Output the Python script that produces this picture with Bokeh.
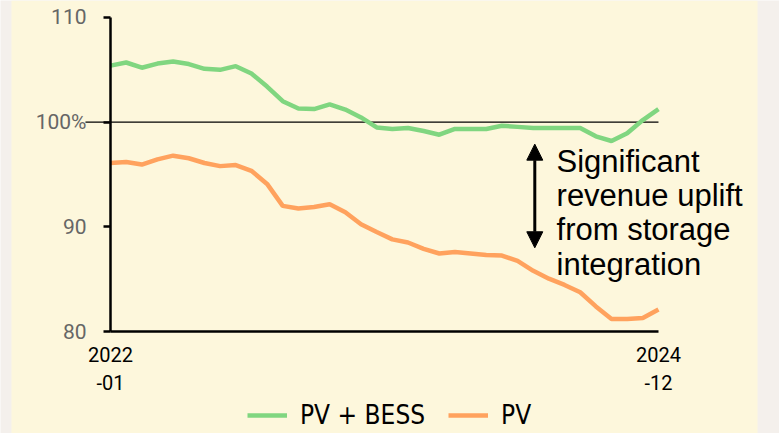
from bokeh.plotting import figure
from bokeh.models import (FixedTicker, Legend, LegendItem, Label, Arrow, NormalHead, BoxAnnotation)
from bokeh.embed import file_html
from bokeh.resources import INLINE

months = list(range(36))
month_labels = {0: "2022\n-01", 35: "2024\n-12"}

pv_bess = [105.4, 105.7, 105.2, 105.6, 105.8, 105.55, 105.1, 105.0, 105.35, 104.65,
           103.4, 102.0, 101.3, 101.25, 101.7, 101.2, 100.45, 99.5, 99.35, 99.45,
           99.15, 98.8, 99.35, 99.35, 99.35, 99.65, 99.55, 99.45, 99.45, 99.45,
           99.45, 98.65, 98.2, 98.95, 100.2, 101.25]
pv = [96.1, 96.2, 95.95, 96.45, 96.8, 96.55, 96.1, 95.8, 95.9, 95.35,
      94.1, 92.0, 91.75, 91.9, 92.15, 91.4, 90.25, 89.5, 88.8, 88.5,
      87.9, 87.45, 87.6, 87.45, 87.3, 87.25, 86.75, 85.8, 85.05, 84.45,
      83.75, 82.4, 81.2, 81.2, 81.3, 82.1]

baseline = 100
y_ticks = [80, 90, 100, 110]
y_tick_labels = {80: "80", 90: "90", 100: "100%", 110: "110"}

annotation_text = "Significant\nrevenue uplift\nfrom storage\nintegration"

CREAM = "#FDF7DC"
GREY = "#F4F0EC"
GREEN = "#80D680"
ORANGE = "#FFA25E"

# frame covers the whole canvas; axes are pinned at data locations
p = figure(width=779, height=433, x_range=(-7.026, 42.73), y_range=(70.255, 111.624),
           output_backend="svg", toolbar_location=None,
           min_border_left=0, min_border_right=0, min_border_top=0, min_border_bottom=0)
p.background_fill_color = GREY
p.border_fill_color = GREY
p.outline_line_color = None
p.grid.visible = False

# cream card
p.add_layout(BoxAnnotation(left=11, right=757, left_units="screen", right_units="screen",
                           fill_color=CREAM, fill_alpha=1, line_alpha=0, level="underlay"))

# reference line at 100% (extends slightly past the axis, over the label)
p.segment(x0=[months[0] - 1.6], y0=[baseline], x1=[months[-1]], y1=[baseline],
          line_color="black", line_width=1.3)

r1 = p.line(months, pv_bess, line_color=GREEN, line_width=4.5)
r2 = p.line(months, pv, line_color=ORANGE, line_width=4.5)

# axes
p.yaxis.fixed_location = months[0]
p.yaxis.bounds = (y_ticks[0], y_ticks[-1])
p.yaxis.ticker = FixedTicker(ticks=y_ticks)
p.yaxis.major_label_overrides = y_tick_labels
p.yaxis.minor_tick_line_color = None
p.yaxis.axis_line_width = 2.5
p.yaxis.major_tick_line_width = 2.5
p.yaxis.major_tick_out = 7
p.yaxis.major_tick_in = 0
p.yaxis.major_label_standoff = 17
p.yaxis.major_label_text_font = "Roboto"
p.yaxis.major_label_text_font_size = "21px"
p.yaxis.major_label_text_color = "#666666"

p.xaxis.fixed_location = y_ticks[0]
p.xaxis.bounds = (months[0], months[-1])
p.xaxis.ticker = FixedTicker(ticks=[months[0], months[-1]])
p.xaxis.major_label_overrides = month_labels
p.xaxis.minor_tick_line_color = None
p.xaxis.major_tick_line_color = None
p.xaxis.axis_line_width = 2.5
p.xaxis.major_label_standoff = 5
p.xaxis.major_label_text_font = "Roboto"
p.xaxis.major_label_text_font_size = "20px"
p.xaxis.major_label_text_color = "black"

legend = Legend(items=[LegendItem(label="PV + BESS", renderers=[r1]),
                       LegendItem(label="PV", renderers=[r2])],
                orientation="horizontal", location=(247, 3),
                padding=0, margin=0, spacing=23, label_standoff=13,
                glyph_width=40, glyph_height=30, label_height=30,
                border_line_alpha=0, background_fill_alpha=0,
                label_text_font="'DejaVu Sans Condensed', 'DejaVu Sans', sans-serif",
                label_text_font_size="26px",
                label_text_color="black")
p.add_layout(legend)

p.add_layout(Arrow(x_start=27.1, y_start=88.0, x_end=27.1, y_end=97.9,
                   line_width=3, line_color="black",
                   start=NormalHead(size=16, fill_color="black", line_color="black"),
                   end=NormalHead(size=16, fill_color="black", line_color="black")))

p.add_layout(Label(x=28.49, y=97.9, text=annotation_text, text_font="Liberation Sans",
                   text_font_size="31px", text_color="black", text_baseline="top",
                   text_line_height=0.975))

open("out.html", "w").write(file_html(p, INLINE))
